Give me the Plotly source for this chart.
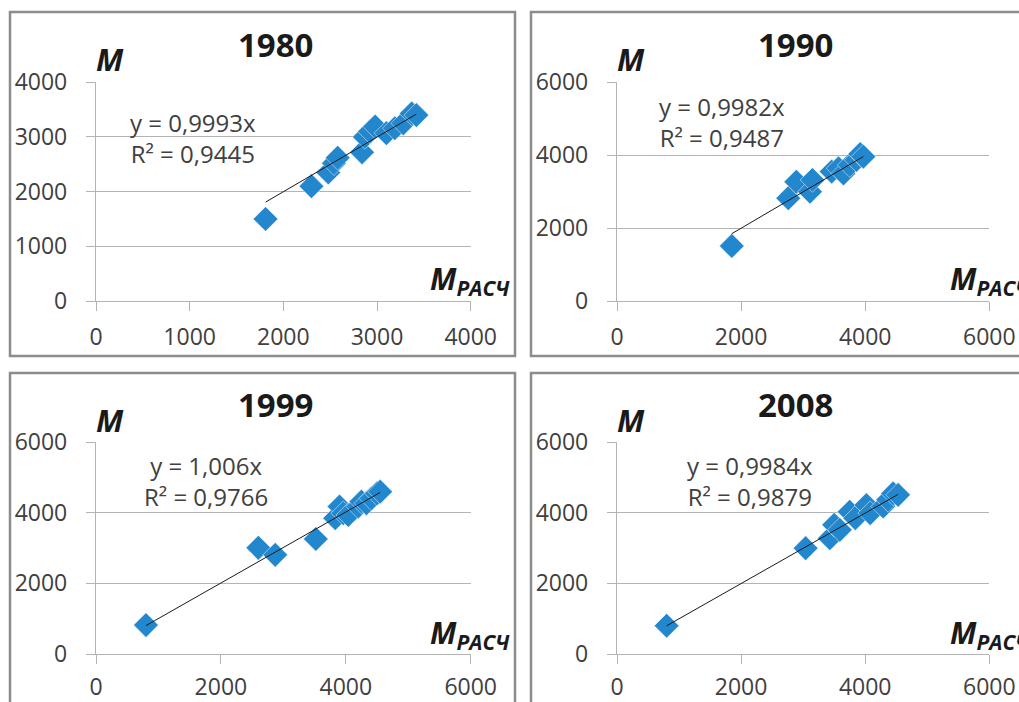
import plotly.graph_objects as go

# ---------------- data ----------------
years = ["1980", "1990", "1999", "2008"]

x_1980 = [1810, 2300, 2480, 2540, 2580, 2840, 2870, 2925, 2980, 3100, 3190, 3280, 3370, 3420]
y_1980 = [1500, 2100, 2350, 2520, 2620, 2720, 3000, 3100, 3190, 3070, 3160, 3250, 3430, 3400]

x_1990 = [1850, 2760, 2890, 3110, 3150, 3460, 3570, 3650, 3750, 3860, 3920, 3970]
y_1990 = [1510, 2820, 3270, 3000, 3320, 3550, 3640, 3500, 3730, 3870, 4030, 3960]

x_1999 = [800, 2600, 2870, 3520, 3830, 3900, 3960, 4040, 4200, 4250, 4330, 4410, 4500, 4550]
y_1999 = [820, 3010, 2810, 3260, 3850, 4180, 3990, 3940, 4180, 4320, 4270, 4410, 4550, 4600]

x_2008 = [800, 3040, 3430, 3500, 3590, 3750, 3840, 4020, 4080, 4290, 4370, 4450, 4530]
y_2008 = [800, 3000, 3280, 3660, 3520, 4030, 3850, 4220, 3990, 4180, 4370, 4550, 4510]

slopes = [0.9993, 0.9982, 1.006, 0.9984]
eq_texts = ["y = 0,9993x<br>R² = 0,9445",
            "y = 0,9982x<br>R² = 0,9487",
            "y = 1,006x<br>R² = 0,9766",
            "y = 0,9984x<br>R² = 0,9879"]
axis_max = [4000, 6000, 6000, 6000]
x_ticks = [[0, 1000, 2000, 3000, 4000], [0, 2000, 4000, 6000],
           [0, 2000, 4000, 6000], [0, 2000, 4000, 6000]]
y_ticks = [[0, 1000, 2000, 3000, 4000], [0, 2000, 4000, 6000],
           [0, 2000, 4000, 6000], [0, 2000, 4000, 6000]]

xs = [x_1980, x_1990, x_1999, x_2008]
ys = [y_1980, y_1990, y_1999, y_2008]

# ---------------- layout geometry (pixels) ----------------
W, H = 1019, 702
def px(x): return x / W
def py(y): return 1 - y / H

# plot areas: (x0, x1, ytop, ybottom)
areas = [(96, 470.7, 82.3, 301), (617, 989.3, 82.3, 301),
         (96, 470.7, 442.3, 654), (617, 989.3, 442.3, 654)]
# panel borders (left, top, right, bottom)
borders = [(10, 12, 515, 356), (531, 12, 1040, 356),
           (10, 373, 515, 720), (531, 373, 1040, 720)]
title_pos = [(275, 45), (795, 45), (275, 405), (795, 405)]
m_pos = [(110, 59), (631, 59), (110, 420), (631, 420)]
mr_pos = [(428, 280), (948, 280), (428, 634), (948, 634)]
eq_pos = [(193, 138), (722, 122), (206, 481), (750, 481)]
x_standoff = [6, 6, 3, 3]

MARK = "#2387ce"
GRID = "#b3b3b3"
TXT = "#404040"
FONT = "Open Sans"

fig = go.Figure()
shapes = []
annotations = []

for i in range(4):
    xa = "x" if i == 0 else f"x{i+1}"
    ya = "y" if i == 0 else f"y{i+1}"
    fig.add_trace(go.Scatter(
        x=xs[i], y=ys[i], mode="markers", xaxis=xa, yaxis=ya,
        marker=dict(symbol="diamond", size=19, color=MARK,
                    line=dict(width=0.8, color="rgba(255,255,255,0.6)")),
        showlegend=False, hoverinfo="skip"))
    xmin, xmax = min(xs[i]), max(xs[i])
    fig.add_trace(go.Scatter(
        x=[xmin, xmax], y=[slopes[i] * xmin, slopes[i] * xmax],
        mode="lines", xaxis=xa, yaxis=ya,
        line=dict(color="#1a1a1a", width=1), showlegend=False, hoverinfo="skip"))

    x0, x1, yt, yb = areas[i]
    common = dict(showline=True, linecolor=GRID, linewidth=1.3,
                  ticks="outside", ticklen=9, tickcolor=GRID, tickwidth=1.3,
                  tickfont=dict(family=FONT, size=23, color=TXT),
                  zeroline=False, fixedrange=True, automargin=False)
    fig.layout[("xaxis" if i == 0 else f"xaxis{i+1}")] = dict(
        domain=[px(x0), px(x1)], range=[0, axis_max[i]], anchor=ya,
        tickvals=x_ticks[i], showgrid=False, ticklabelstandoff=x_standoff[i], **common)
    fig.layout[("yaxis" if i == 0 else f"yaxis{i+1}")] = dict(
        domain=[py(yb), py(yt)], range=[0, axis_max[i]], anchor=xa,
        tickvals=y_ticks[i], showgrid=True, gridcolor=GRID, gridwidth=1.3,
        ticklabelstandoff=14, **common)

    l, t, r, b = borders[i]
    shapes.append(dict(type="rect", xref="paper", yref="paper",
                       x0=px(l), x1=px(r), y0=py(b), y1=py(t),
                       line=dict(color="#8c8c8c", width=2.5), layer="above"))

    tx, ty = title_pos[i]
    annotations.append(dict(text=f"<b>{years[i]}</b>", x=px(tx), y=py(ty),
                            xref="paper", yref="paper", showarrow=False,
                            xanchor="center", yanchor="middle",
                            font=dict(family=FONT, size=33, color="#1a1a1a")))
    mx, my = m_pos[i]
    annotations.append(dict(text="<b><i>M</i></b>", x=px(mx), y=py(my),
                            xref="paper", yref="paper", showarrow=False,
                            xanchor="center", yanchor="middle",
                            font=dict(family=FONT, size=31, color="#1a1a1a")))
    rx, ry = mr_pos[i]
    annotations.append(dict(text="<b><i>M</i></b><sub><b><i>РАСЧ</i></b></sub>",
                            x=px(rx), y=py(ry), xref="paper", yref="paper",
                            showarrow=False, xanchor="left", yanchor="middle",
                            font=dict(family=FONT, size=30, color="#1a1a1a")))
    ex, ey = eq_pos[i]
    annotations.append(dict(text=eq_texts[i], x=px(ex), y=py(ey),
                            xref="paper", yref="paper", showarrow=False,
                            xanchor="center", yanchor="middle", align="center",
                            font=dict(family=FONT, size=24, color=TXT)))

fig.update_layout(width=W, height=H, margin=dict(l=0, r=0, t=0, b=0),
                  paper_bgcolor="white", plot_bgcolor="white",
                  shapes=shapes, annotations=annotations)

fig.write_html("out.html")
